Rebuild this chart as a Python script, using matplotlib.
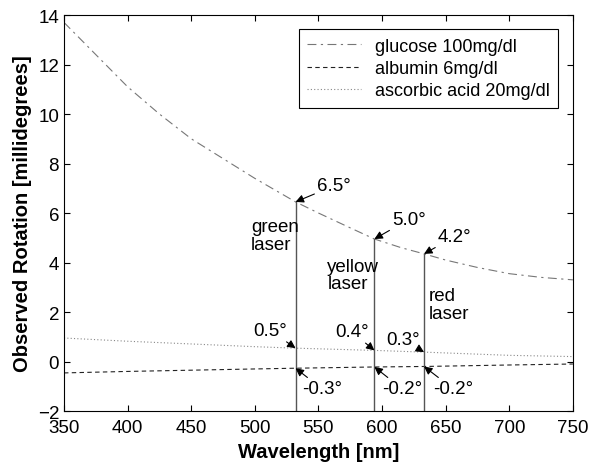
import numpy as np
import matplotlib
matplotlib.use("Agg")
import matplotlib.pyplot as plt

plt.rcParams['font.family'] = ['Liberation Sans', 'DejaVu Sans']

# glucose 100 mg/dl
glu_wl = [350, 375, 400, 425, 450, 475, 500, 532, 550, 575, 594, 615, 633, 650, 675, 700, 725, 750]
glu_rot = [13.7, 12.4, 11.1, 10.0, 9.0, 8.2, 7.4, 6.45, 6.0, 5.4, 4.95, 4.6, 4.35, 4.1, 3.8, 3.55, 3.4, 3.3]

# albumin 6 mg/dl
alb_wl = [350, 400, 450, 500, 532, 594, 633, 700, 750]
alb_rot = [-0.46, -0.40, -0.35, -0.30, -0.27, -0.22, -0.20, -0.14, -0.10]

# ascorbic acid 20 mg/dl
asc_wl = [350, 400, 450, 500, 532, 594, 633, 700, 750]
asc_rot = [0.95, 0.82, 0.71, 0.60, 0.54, 0.45, 0.38, 0.25, 0.20]

# lasers
laser_wl = [532, 594, 633]
laser_names = ['green\nlaser', 'yellow\nlaser', 'red\nlaser']
glu_lbl = ['6.5°', '5.0°', '4.2°']
asc_lbl = ['0.5°', '0.4°', '0.3°']
alb_lbl = ['-0.3°', '-0.2°', '-0.2°']

fig = plt.figure(figsize=(5.98, 4.64), dpi=100)
ax = fig.add_axes([0.107, 0.112, 0.851, 0.8535])

ax.plot(glu_wl, glu_rot, color='#777777', lw=0.8, dashes=(8, 4, 2, 4),
        label='glucose 100mg/dl')
ax.plot(alb_wl, alb_rot, color='#222222', lw=0.8, dashes=(4, 3),
        label='albumin 6mg/dl')
ax.plot(asc_wl, asc_rot, color='#888888', lw=0.8, dashes=(1, 2),
        label='ascorbic acid 20mg/dl')

glu_at = np.interp(laser_wl, glu_wl, glu_rot)
asc_at = np.interp(laser_wl, asc_wl, asc_rot)
alb_at = np.interp(laser_wl, alb_wl, alb_rot)

for wl, top in zip(laser_wl, glu_at):
    ax.plot([wl, wl], [-2, top], color='#555555', lw=1.0)

arrow = dict(arrowstyle='-|>', color='black', lw=0.8, mutation_scale=12,
             shrinkA=0, shrinkB=0)
fs = 13.5

# glucose labels
glu_txt = [(549, 7.1), (608, 5.75), (644, 5.05)]
for (tx, ty), wl, val, s in zip(glu_txt, laser_wl, glu_at, glu_lbl):
    ax.annotate(s, xy=(wl, val), xytext=(tx, ty), fontsize=fs,
                ha='left', va='center', arrowprops=arrow)

# ascorbic acid labels
asc_txt = [(499, 1.25), (563, 1.2), (603, 0.9)]
for (tx, ty), wl, val, s in zip(asc_txt, laser_wl, asc_at, asc_lbl):
    ax.annotate(s, xy=(wl, val), xytext=(tx, ty), fontsize=fs,
                ha='left', va='center', arrowprops=arrow)

# albumin labels
alb_txt = [(537, -1.1), (600, -1.1), (640, -1.1)]
for (tx, ty), wl, val, s in zip(alb_txt, laser_wl, alb_at, alb_lbl):
    ax.annotate(s, xy=(wl, val), xytext=(tx, ty), fontsize=fs,
                ha='left', va='center', arrowprops=arrow)

# laser names
name_pos = [(497, 5.1), (557, 3.5), (637, 2.3)]
for (tx, ty), s in zip(name_pos, laser_names):
    ax.text(tx, ty, s, fontsize=fs, ha='left', va='center', linespacing=1.05)

ax.set_xlim(350, 750)
ax.set_ylim(-2, 14)
ax.set_xticks(np.arange(350, 751, 50))
ax.set_yticks(np.arange(-2, 15, 2))
ax.tick_params(direction='in', top=True, right=True, labelsize=13.5, length=4)
ax.tick_params(axis='x', pad=6)
ax.set_xlabel('Wavelength [nm]', fontsize=14.5, fontweight='bold')
ax.set_ylabel('Observed Rotation [millidegrees]', fontsize=14.5,
              fontweight='bold', labelpad=4)

leg = ax.legend(loc='upper right', fontsize=13, handlelength=3.0,
                fancybox=False, framealpha=1, edgecolor='black',
                borderaxespad=0.8, labelspacing=0.3, borderpad=0.45)
leg.get_frame().set_linewidth(0.8)

fig.savefig('out.png', dpi=100)
